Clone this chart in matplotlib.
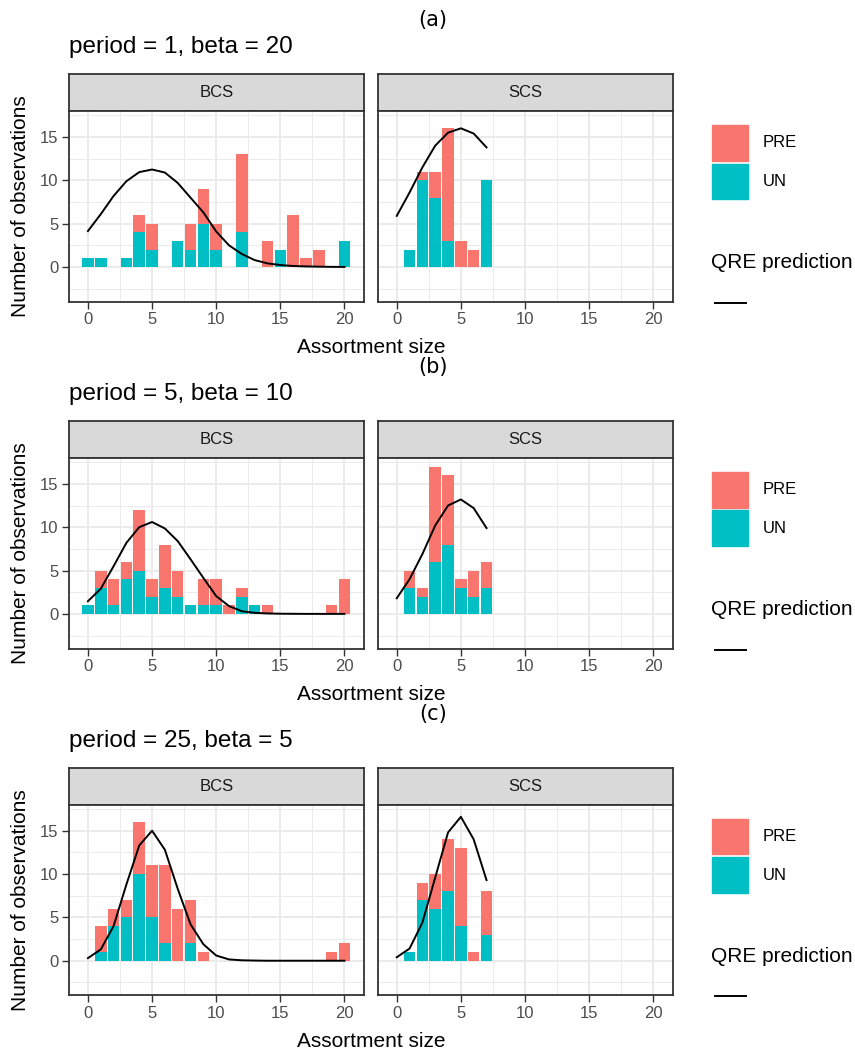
import matplotlib
matplotlib.use("Agg")
import matplotlib.pyplot as plt
from matplotlib.patches import Rectangle
from matplotlib.lines import Line2D
from matplotlib.ticker import FixedLocator

plt.rcParams["font.family"] = ["Liberation Sans", "DejaVu Sans"]

PRE_COL = "#F8766D"
UN_COL = "#00BFC4"

# assortment sizes
x_bcs = list(range(21))
x_scs = list(range(8))

# (a) period = 1, beta = 20
a_bcs_un = [1, 1, 0, 1, 4, 2, 0, 3, 2, 5, 2, 0, 4, 0, 0, 2, 0, 0, 0, 0, 3]
a_bcs_pre = [0, 0, 0, 0, 2, 3, 0, 0, 3, 4, 3, 0, 9, 0, 3, 0, 6, 1, 2, 0, 0]
a_bcs_qre = [4.15, 6.1, 8.2, 9.9, 10.95, 11.25, 10.9, 9.7, 8.0, 6.3, 4.1,
             2.5, 1.5, 0.8, 0.42, 0.23, 0.12, 0.07, 0.04, 0.02, 0.01]
a_scs_un = [0, 2, 10, 8, 3, 0, 0, 10]
a_scs_pre = [0, 0, 1, 3, 13, 3, 2, 0]
a_scs_qre = [5.9, 8.6, 11.5, 14.0, 15.5, 16.0, 15.4, 13.8]

# (b) period = 5, beta = 10
b_bcs_un = [1, 3, 1, 4, 5, 2, 3, 2, 1, 1, 1, 0, 2, 1, 0, 0, 0, 0, 0, 0, 0]
b_bcs_pre = [0, 2, 3, 2, 7, 2, 5, 3, 0, 3, 3, 1, 1, 0, 1, 0, 0, 0, 0, 1, 4]
b_bcs_qre = [1.46, 2.9, 5.5, 8.2, 10.0, 10.6, 9.85, 8.4, 6.3, 4.15, 2.05,
             0.9, 0.3, 0.12, 0.05, 0.02, 0.01, 0.0, 0.0, 0.0, 0.0]
b_scs_un = [0, 3, 2, 6, 8, 3, 2, 3]
b_scs_pre = [0, 2, 1, 11, 8, 1, 3, 3]
b_scs_qre = [1.8, 4.0, 6.9, 10.2, 12.5, 13.2, 12.2, 9.9]

# (c) period = 25, beta = 5
c_bcs_un = [0, 1, 4, 5, 10, 5, 2, 0, 2, 0, 0, 0, 0, 0, 0, 0, 0, 0, 0, 0, 0]
c_bcs_pre = [0, 3, 2, 2, 6, 6, 9, 6, 5, 1, 0, 0, 0, 0, 0, 0, 0, 0, 0, 1, 2]
c_bcs_qre = [0.3, 1.3, 4.0, 8.8, 13.3, 15.0, 12.8, 8.3, 4.2, 1.9, 0.6,
             0.15, 0.05, 0.02, 0.0, 0.0, 0.0, 0.0, 0.0, 0.0, 0.0]
c_scs_un = [0, 1, 7, 6, 8, 4, 0, 3]
c_scs_pre = [0, 0, 2, 4, 6, 9, 1, 5]
c_scs_qre = [0.4, 1.4, 4.4, 9.6, 14.8, 16.6, 14.0, 9.3]

tags = ["(a)", "(b)", "(c)"]
titles = ["period = 1, beta = 20", "period = 5, beta = 10", "period = 25, beta = 5"]
rows = [
    (a_bcs_un, a_bcs_pre, a_bcs_qre, a_scs_un, a_scs_pre, a_scs_qre),
    (b_bcs_un, b_bcs_pre, b_bcs_qre, b_scs_un, b_scs_pre, b_scs_qre),
    (c_bcs_un, c_bcs_pre, c_bcs_qre, c_scs_un, c_scs_pre, c_scs_qre),
]

W, H = 855, 1050
fig = plt.figure(figsize=(W / 100, H / 100), dpi=100)


def fx(px):
    return px / W


def fy(py):
    return 1 - py / H


def draw_panel(left, top, facet, x, un, pre, qre, show_y):
    # strip
    sax = fig.add_axes([fx(left), fy(top), 295 / W, 37 / H])
    sax.set_facecolor("#D9D9D9")
    sax.set_xticks([])
    sax.set_yticks([])
    for s in sax.spines.values():
        s.set_color("#333333")
        s.set_linewidth(1.3)
    sax.text(0.5, 0.5, facet, ha="center", va="center", fontsize=12,
             color="#1A1A1A", transform=sax.transAxes)

    ax = fig.add_axes([fx(left), fy(top + 190.7), 295 / W, 190.7 / H])
    ax.bar(x, un, width=0.9, color=UN_COL, zorder=2)
    ax.bar(x, pre, width=0.9, bottom=un, color=PRE_COL, zorder=2)
    ax.plot(x, qre, color="black", lw=1.4, zorder=3)

    ax.set_xlim(-1.5, 21.5)
    ax.set_ylim(-4, 18)
    ax.xaxis.set_major_locator(FixedLocator([0, 5, 10, 15, 20]))
    ax.xaxis.set_minor_locator(FixedLocator([2.5, 7.5, 12.5, 17.5]))
    ax.yaxis.set_major_locator(FixedLocator([0, 5, 10, 15]))
    ax.yaxis.set_minor_locator(FixedLocator([-2.5, 2.5, 7.5, 12.5, 17.5]))
    ax.set_axisbelow(True)
    ax.grid(which="major", color="#EBEBEB", lw=1.4)
    ax.grid(which="minor", color="#EBEBEB", lw=0.7)
    ax.tick_params(which="minor", length=0)
    ax.tick_params(which="major", length=4.8, width=1.0, color="#333333",
                   labelsize=12, labelcolor="#4D4D4D", pad=2.5)
    if not show_y:
        ax.tick_params(axis="y", left=False, labelleft=False)
    for s in ax.spines.values():
        s.set_color("#333333")
        s.set_linewidth(1.3)
    return ax


for r, (bu, bp, bq, su, sp, sq) in enumerate(rows):
    o = r * 346.85
    fig.text(fx(433), fy(20 + o), tags[r], ha="center", va="center",
             fontsize=15, family="DejaVu Sans")
    fig.text(fx(68.7), fy(53 + o), titles[r], ha="left", va="baseline",
             fontsize=17.5)
    draw_panel(68.7, 111 + o, "BCS", x_bcs, bu, bp, bq, True)
    draw_panel(377.5, 111 + o, "SCS", x_scs, su, sp, sq, False)

    fig.text(fx(371), fy(347.7 + o), "Assortment size", ha="center",
             va="center", fontsize=15)
    fig.text(fx(20.5), fy(206.4 + o), "Number of observations", ha="center",
             va="center", rotation=90, fontsize=15)

    # legend: fill
    fig.add_artist(Rectangle((fx(712), fy(160.7 + o)), 36 / W, 35.7 / H,
                             transform=fig.transFigure, color=PRE_COL))
    fig.add_artist(Rectangle((fx(712), fy(199.3 + o)), 36 / W, 35.7 / H,
                             transform=fig.transFigure, color=UN_COL))
    fig.text(fx(762.7), fy(142.8 + o), "PRE", ha="left", va="center",
             fontsize=12)
    fig.text(fx(762.7), fy(181.5 + o), "UN", ha="left", va="center",
             fontsize=12)
    # legend: line
    fig.text(fx(710.7), fy(263 + o), "QRE prediction", ha="left",
             va="center", fontsize=15)
    fig.add_artist(Line2D([fx(715), fx(746)], [fy(302.7 + o)] * 2,
                          transform=fig.transFigure, color="black", lw=1.4))

fig.savefig("out.png", dpi=100)
